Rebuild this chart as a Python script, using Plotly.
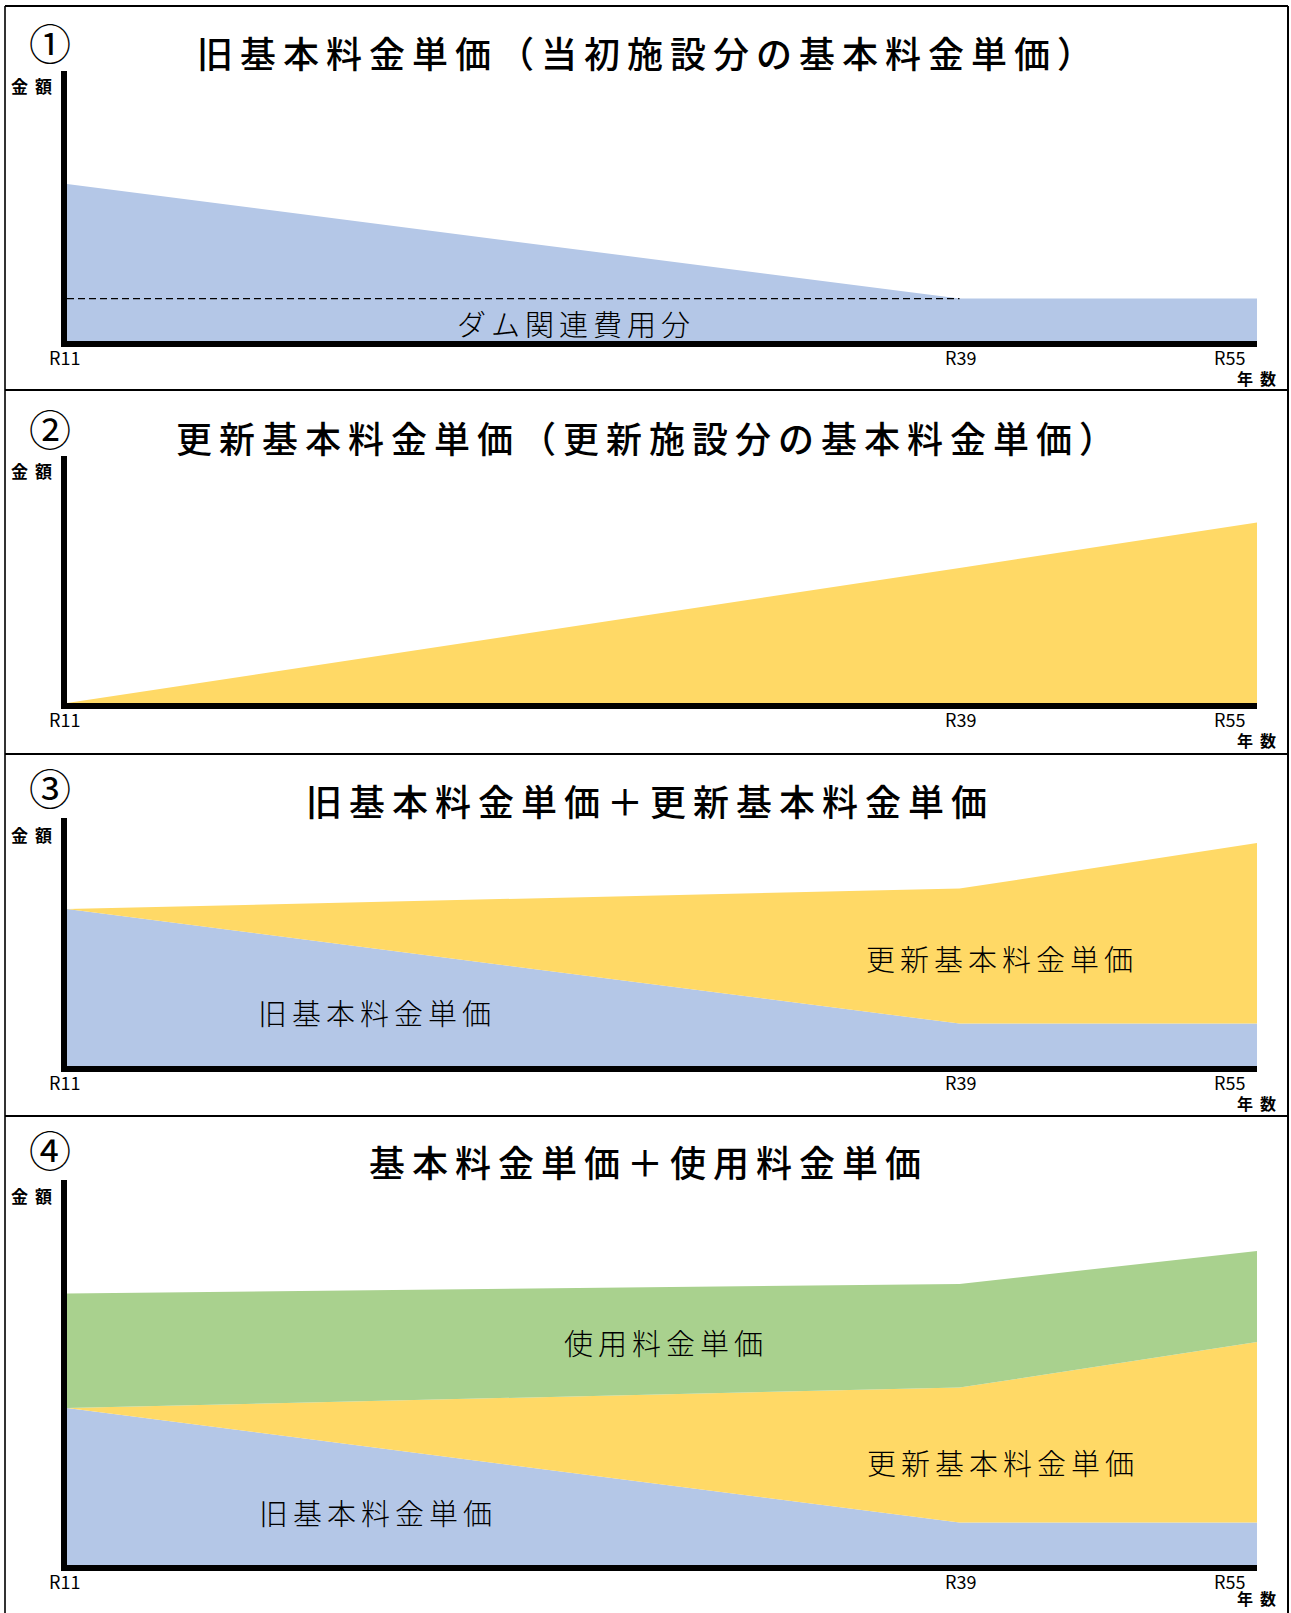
import plotly.graph_objects as go

# ---------------- data ----------------
period_labels = ["R11", "R39", "R55"]
x_pos = [0.0, 0.75, 1.0]              # schematic positions of the periods on the time axis
old_basic = [100, 27, 27]             # 旧基本料金単価
new_basic = [0, 86, 115]              # 更新基本料金単価
usage_fee = [73, 66, 58]              # 使用料金単価
dam_cost_x = [0.0, 0.75]              # ダム関連費用分 (R11–R39)
dam_cost = [27, 27]

panel_titles = [
    "旧基本料金単価（当初施設分の基本料金単価）",
    "更新基本料金単価（更新施設分の基本料金単価）",
    "旧基本料金単価＋更新基本料金単価",
    "基本料金単価＋使用料金単価",
]
panel_numbers = ["①", "②", "③", "④"]

# ---------------- layout helpers ----------------
W, H = 1291, 1613
PX_PER_UNIT = 1.57
FONT = "Noto Sans CJK JP"
BLUE, YELLOW, GREEN = "#B4C7E7", "#FFD966", "#A9D18E"

def px(xp):
    return xp / W

def py(yp):
    return 1 - yp / H

# plot areas (pixel top, bottom) of each panel
panels = [(71, 341), (456, 703), (818, 1066), (1180, 1565)]
X_LEFT, X_RIGHT = 67, 1257

fig = go.Figure()

def axis_names(i):
    return ("x" if i == 0 else f"x{i+1}", "y" if i == 0 else f"y{i+1}")

# panel 1
fig.add_trace(go.Scatter(x=x_pos, y=old_basic, mode="none", fill="tozeroy",
                         fillcolor=BLUE, xaxis="x", yaxis="y", hoverinfo="skip"))
fig.add_trace(go.Scatter(x=dam_cost_x, y=dam_cost, mode="lines",
                         line=dict(color="black", width=1.2, dash="7px,4px"),
                         xaxis="x", yaxis="y", hoverinfo="skip"))
# panel 2
fig.add_trace(go.Scatter(x=x_pos, y=new_basic, mode="none", fill="tozeroy",
                         fillcolor=YELLOW, xaxis="x2", yaxis="y2", hoverinfo="skip"))
# panel 3
for vals, col in [(old_basic, BLUE), (new_basic, YELLOW)]:
    fig.add_trace(go.Scatter(x=x_pos, y=vals, mode="none", stackgroup="s3",
                             fillcolor=col, xaxis="x3", yaxis="y3", hoverinfo="skip"))
# panel 4
for vals, col in [(old_basic, BLUE), (new_basic, YELLOW), (usage_fee, GREEN)]:
    fig.add_trace(go.Scatter(x=x_pos, y=vals, mode="none", stackgroup="s4",
                             fillcolor=col, xaxis="x4", yaxis="y4", hoverinfo="skip"))

layout = dict(
    width=W, height=H, autosize=False,
    margin=dict(l=0, r=0, t=0, b=0, pad=0),
    paper_bgcolor="white", plot_bgcolor="white",
    showlegend=False, hovermode=False,
    font=dict(family=FONT, color="black"),
)

annotations = []
shapes = []

def ann(text, xp, yp, size, weight="normal", spacing=0, xanchor="center"):
    if spacing:
        text = f'<span style="letter-spacing:{spacing}px">{text}</span>'
    annotations.append(dict(
        text=text, x=px(xp), y=py(yp), xref="paper", yref="paper",
        xanchor=xanchor, yanchor="middle", showarrow=False,
        font=dict(family=FONT, size=size, color="black", weight=weight),
    ))

title_pos = [(649, 52), (649, 437), (650, 800), (648, 1161)]
title_spacing = [7, 7, 7, 7]
num_y = [42, 428, 786, 1148]
money_y = [86, 471, 834, 1195]

for i, (top, bot) in enumerate(panels):
    xn, yn = axis_names(i)
    xk = "xaxis" if i == 0 else f"xaxis{i+1}"
    yk = "yaxis" if i == 0 else f"yaxis{i+1}"
    layout[xk] = dict(domain=[px(X_LEFT), px(X_RIGHT)], range=[0, 1],
                      showline=True, linewidth=6, linecolor="black",
                      showgrid=False, zeroline=False, showticklabels=False,
                      ticks="", anchor=yn, fixedrange=True)
    layout[yk] = dict(domain=[py(bot), py(top)], range=[0, (bot - top) / PX_PER_UNIT],
                      showline=True, linewidth=6, linecolor="black",
                      showgrid=False, zeroline=False, showticklabels=False,
                      ticks="", anchor=xn, fixedrange=True)
    # titles and labels
    ann(panel_titles[i], title_pos[i][0], title_pos[i][1], 36, weight=500, spacing=title_spacing[i])
    ann(panel_numbers[i], 50, num_y[i], 42)
    ann("金額", 35, money_y[i], 17, weight="bold", spacing=7)
    label_y = bot + 16
    ann(period_labels[0], 64, label_y, 18)
    ann(period_labels[1], 960, label_y, 18)
    ann(period_labels[2], 1229, label_y, 18)
    ann("年数", 1260, min(bot + 37, 1598), 16, weight="bold", spacing=7)

# in-chart labels
ann("ダム関連費用分", 576, 323, 29, weight=300, spacing=5)
ann("旧基本料金単価", 377, 1012, 29, weight=300, spacing=5)
ann("更新基本料金単価", 1002, 958, 29, weight=300, spacing=5)
ann("使用料金単価", 666, 1342, 29, weight=300, spacing=5)
ann("更新基本料金単価", 1003, 1462, 29, weight=300, spacing=5)
ann("旧基本料金単価", 378, 1512, 29, weight=300, spacing=5)

# outer frame and separators
line_style = dict(color="black", width=2)
shapes.append(dict(type="line", xref="paper", yref="paper", x0=px(5), x1=px(5), y0=py(6), y1=py(1620), line=dict(color="#333333", width=2)))
shapes.append(dict(type="line", xref="paper", yref="paper", x0=px(1288), x1=px(1288), y0=py(6), y1=py(1620), line=line_style))
for yline in [6, 390, 754, 1116]:
    shapes.append(dict(type="line", xref="paper", yref="paper", x0=px(5), x1=px(1288), y0=py(yline), y1=py(yline), line=line_style))

layout["annotations"] = annotations
layout["shapes"] = shapes
fig.update_layout(**layout)

fig.write_html("out.html", config={"displayModeBar": False, "staticPlot": True},
               post_script="document.body.style.margin='0';")
